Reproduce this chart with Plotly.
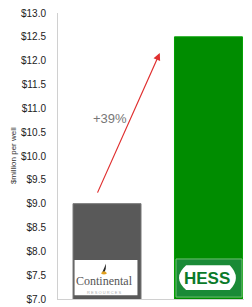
import plotly.graph_objects as go

companies = ["Continental", "Hess"]
cost_per_well = [9.0, 12.5]
bar_colors = ["#595959", "#008C00"]
tick_vals = [7.0, 7.5, 8.0, 8.5, 9.0, 9.5, 10.0, 10.5, 11.0, 11.5, 12.0, 12.5, 13.0]
tick_text = ["$%.1f" % v for v in tick_vals]
change_label = "+39%"
y_title = "$million per well"

fig = go.Figure()
fig.add_trace(go.Bar(
    x=[0, 1], y=cost_per_well, base=0,
    marker=dict(color=bar_colors, line=dict(color=["#777777", "#00A000"], width=1)),
    width=0.67, hoverinfo="skip",
))

shapes = [
    # Continental logo box
    dict(type="rect", xref="x", yref="y", x0=-0.32, x1=0.30, y0=7.08, y1=7.82,
         fillcolor="white", line=dict(width=0), layer="above"),
    # drop icon
    dict(type="path", xref="x", yref="y",
         path="M -0.03 7.54 Q -0.005 7.64 -0.01 7.74 Q -0.03 7.64 -0.05 7.54 Z",
         fillcolor="#222222", line=dict(width=0), layer="above"),
    dict(type="path", xref="x", yref="y",
         path="M -0.06 7.54 Q -0.03 7.62 0.0 7.54 Q -0.03 7.49 -0.06 7.54 Z",
         fillcolor="#E0A020", line=dict(width=0), layer="above"),
    # Hess logo box
    dict(type="rect", xref="x", yref="y", x0=0.68, x1=1.33, y0=7.04, y1=7.84,
         fillcolor="#1A8A36", line=dict(color="#6CC070", width=1), layer="above"),
    dict(type="path", xref="x", yref="y",
         path="M 0.78 7.19 L 1.21 7.19 Q 1.33 7.45 1.21 7.71 L 0.78 7.71 Q 0.64 7.45 0.78 7.19 Z",
         fillcolor="white", line=dict(width=0), layer="above"),
]

annotations = [
    dict(x=0.52, y=12.16, xref="x", yref="y", ax=-0.1, ay=9.2, axref="x", ayref="y",
         showarrow=True, arrowhead=2, arrowsize=1.2, arrowwidth=1.2, arrowcolor="#E03030", text=""),
    dict(x=0.03, y=10.78, xref="x", yref="y", text=change_label, showarrow=False,
         font=dict(size=13, color="#777777", family="Liberation Sans")),
    dict(x=-0.025, y=7.37, xref="x", yref="y", text="Continental", showarrow=False,
         font=dict(size=12, color="#555555", family="Liberation Serif")),
    dict(x=-0.025, y=7.14, xref="x", yref="y", text="R E S O U R C E S", showarrow=False,
         font=dict(size=4, color="#AAAAAA", family="Liberation Sans")),
    dict(x=0.99, y=7.44, xref="x", yref="y", text="<b>HESS</b>", showarrow=False,
         font=dict(size=17, color="#0A7A2A", family="Liberation Sans")),
    dict(x=-0.24, y=0.5, xref="paper", yref="paper", xanchor="center", yanchor="middle",
         text=y_title, textangle=-90,
         showarrow=False, font=dict(size=8, color="#333333", family="Liberation Sans")),
]

fig.update_layout(
    width=244, height=299,
    margin=dict(l=50, r=7, t=5, b=8, autoexpand=False),
    paper_bgcolor="white", plot_bgcolor="white",
    showlegend=False,
    shapes=shapes, annotations=annotations,
    xaxis=dict(range=[-0.483, 1.36], showticklabels=False, showgrid=False, zeroline=False,
               showline=True, linecolor="#D0D0D0", linewidth=1, ticks="", automargin=False),
    yaxis=dict(range=[7.0, 13.0], tickvals=tick_vals, ticktext=tick_text, showgrid=False,
               zeroline=False, showline=True, linecolor="#D0D0D0", linewidth=1, ticks="",
               ticklabelstandoff=9, automargin=False, ticklabeloverflow="allow",
               tickfont=dict(size=10, color="#222222", family="Liberation Sans")),
)

fig.write_html("out.html")
